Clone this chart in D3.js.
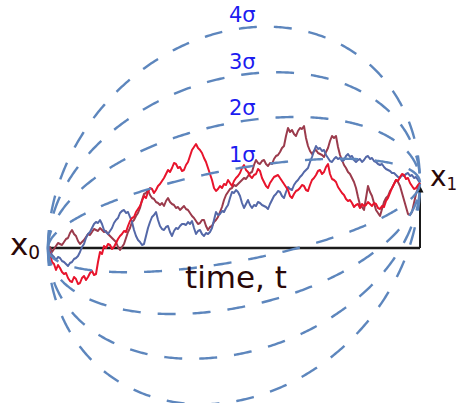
<!DOCTYPE html>
<html>
<head>
<meta charset="utf-8">
<script src="https://cdn.jsdelivr.net/npm/d3@7"></script>
<style>
  body { margin: 0; background: #fff; }
  text { font-family: "DejaVu Sans", Verdana, sans-serif; }
</style>
</head>
<body>
<div id="chart"></div>
<script>
// Brownian bridge sample paths, value above x0, one sample per equal time step
const redPath = [0, -5, -14, -16, -22, -17, -20, -24, -26, -25, -30, -33, -34, -29, -31, -36, -35, -30, -28, -32,
  -29, -25, -23, -27, -26, -14, -4, -6, 2, 0, 4, 3, -1, 1, 5, 9, 12, 14, 17, 16,
  22, 27, 30, 31, 36, 39, 42, 47, 52, 50, 56, 60, 59, 55, 58, 62, 64, 67, 70, 74,
  78, 76, 80, 85, 84, 80, 81, 77, 78, 83, 86, 92, 98, 101, 104, 100, 98, 95, 90, 86,
  80, 74, 68, 60, 57, 59, 62, 60, 64, 63, 68, 65, 62, 67, 70, 72, 75, 80, 83, 78,
  76, 72, 70, 73, 74, 79, 77, 70, 66, 62, 60, 65, 68, 71, 72, 73, 70, 67, 64, 61,
  58, 52, 50, 54, 57, 58, 60, 63, 62, 58, 57, 63, 68, 70, 73, 77, 78, 74, 76, 81,
  84, 74, 69, 68, 66, 61, 58, 55, 53, 49, 47, 48, 45, 41, 43, 44, 40, 44, 42, 43,
  46, 44, 42, 45, 44, 40, 39, 42, 41, 47, 50, 55, 60, 64, 68, 67, 71, 74, 73, 69,
  70, 65, 62, 59, 60, 63, 65];
const maroonPath = [0, 1, -4, -1, 2, 5, 4, 3, 6, 9, 10, 15, 18, 14, 12, 7, 4, 6, 8, 11,
  14, 13, 16, 19, 18, 17, 20, 18, 16, 17, 14, 12, 10, 8, 6, 1, -2, 1, 4, 10,
  16, 20, 26, 28, 32, 35, 40, 48, 54, 55, 58, 53, 50, 49, 46, 45, 43, 45, 42, 47,
  50, 46, 44, 43, 40, 41, 38, 40, 42, 39, 38, 35, 32, 30, 27, 24, 25, 28, 28, 22,
  18, 21, 22, 26, 28, 31, 36, 41, 48, 53, 56, 59, 60, 63, 62, 64, 66, 68, 70, 69,
  72, 75, 76, 83, 88, 85, 84, 87, 88, 84, 82, 85, 84, 89, 92, 93, 96, 100, 102, 112,
  120, 116, 118, 114, 112, 117, 120, 119, 122, 110, 102, 97, 94, 97, 98, 95, 94, 93, 91, 96,
  100, 107, 112, 110, 112, 101, 93, 88, 83, 80, 76, 74, 70, 66, 60, 51, 43, 41, 38, 50,
  62, 56, 52, 45, 38, 35, 32, 39, 46, 50, 52, 57, 60, 64, 68, 66, 62, 55, 48, 41,
  34, 33, 36, 45, 54, 60, 65];
const bluePath = [0, -3, -7, -9, -12, -9, -10, -13, -14, -16, -18, -15, -14, -11, -10, -8, -4, 1, 4, 10,
  14, 16, 20, 24, 26, 25, 28, 24, 18, 16, 14, 17, 20, 25, 28, 30, 35, 37, 38, 35,
  36, 31, 26, 18, 12, 8, 6, 3, 4, 12, 20, 26, 31, 33, 36, 28, 22, 19, 18, 21,
  22, 16, 12, 17, 20, 19, 22, 24, 24, 23, 26, 24, 27, 20, 14, 17, 18, 14, 12, 15,
  14, 16, 20, 28, 36, 33, 34, 37, 36, 40, 43, 50, 56, 55, 58, 56, 52, 45, 40, 44,
  48, 43, 40, 43, 42, 46, 45, 43, 42, 41, 39, 44, 48, 52, 54, 57, 56, 52, 50, 56,
  61, 59, 58, 63, 66, 68, 71, 73, 76, 78, 80, 86, 91, 97, 102, 99, 100, 97, 98, 93,
  90, 87, 86, 89, 91, 89, 90, 87, 88, 92, 94, 91, 92, 88, 86, 88, 89, 86, 88, 91,
  92, 89, 90, 87, 86, 84, 83, 84, 81, 79, 78, 77, 75, 75, 73, 71, 70, 73, 72, 74,
  75, 72, 73, 70, 71, 68, 65];

const x0Value = 0;
const x1Value = 65;
const sigma = 93;
const sigmaLevels = [1, 2, 3, 4];
const sigmaLabels = ["1σ", "2σ", "3σ", "4σ"];

const width = 458;
const height = 403;

const xScale = d3.scaleLinear().domain([0, 1]).range([48, 420]);
const yScale = d3.scaleLinear().domain([0, 100]).range([248, 148]);

const svg = d3
  .select("#chart")
  .append("svg")
  .attr("width", width)
  .attr("height", height);

svg
  .append("defs")
  .append("marker")
  .attr("id", "arrow")
  .attr("viewBox", "0 0 10 10")
  .attr("refX", 5)
  .attr("refY", 5)
  .attr("markerWidth", 3.5)
  .attr("markerHeight", 3.5)
  .attr("orient", "auto")
  .append("path")
  .attr("d", "M0,0 L10,5 L0,10 Z")
  .attr("fill", "#111");

// time axis and the rise to x1
svg
  .append("line")
  .attr("x1", xScale(0))
  .attr("x2", xScale(1))
  .attr("y1", yScale(x0Value))
  .attr("y2", yScale(x0Value))
  .attr("stroke", "#1a1a1a")
  .attr("stroke-width", 2.6);

svg
  .append("line")
  .attr("x1", xScale(1))
  .attr("x2", xScale(1))
  .attr("y1", yScale(x0Value))
  .attr("y2", yScale(x1Value) + 6)
  .attr("stroke", "#1a1a1a")
  .attr("stroke-width", 2)
  .attr("marker-end", "url(#arrow)");

// sample paths
const line = d3
  .line()
  .x((d, i, arr) => xScale(i / (arr.length - 1)))
  .y((d) => yScale(d));

const paths = [
  { values: maroonPath, color: "#9b3b4c" },
  { values: bluePath, color: "#5468a8" },
  { values: redPath, color: "#e8142c" },
];

svg
  .selectAll(".walk")
  .data(paths)
  .enter()
  .append("path")
  .attr("class", "walk")
  .attr("d", (d) => line(d.values))
  .attr("fill", "none")
  .attr("stroke", (d) => d.color)
  .attr("stroke-width", 2)
  .attr("stroke-linejoin", "round");

// sigma envelopes
const ts = d3.range(0, 301).map((s) => (1 - Math.cos((Math.PI * s) / 300)) / 2);
const mean = (t) => x0Value + (x1Value - x0Value) * t;

const envelopes = [];
sigmaLevels.forEach((k) => {
  envelopes.push(ts.map((t) => [t, mean(t) + k * sigma * Math.sqrt(t * (1 - t))]));
  envelopes.push(ts.map((t) => [t, mean(t) - k * sigma * Math.sqrt(t * (1 - t))]));
});

const envLine = d3
  .line()
  .x((d) => xScale(d[0]))
  .y((d) => yScale(d[1]));

svg
  .selectAll(".env")
  .data(envelopes)
  .enter()
  .append("path")
  .attr("class", "env")
  .attr("d", envLine)
  .attr("fill", "none")
  .attr("stroke", "#5d86bd")
  .attr("stroke-width", 2.4)
  .attr("stroke-dasharray", "18,17");

// labels
svg
  .selectAll(".sig")
  .data(sigmaLevels)
  .enter()
  .append("text")
  .attr("class", "sig")
  .attr("x", 229)
  .attr("y", (k) => yScale(mean(0.49) + k * sigma * 0.5) - 8)
  .attr("fill", "#1c1cf0")
  .attr("font-size", 21)
  .text((k, i) => sigmaLabels[i]);

const xLabel = (x, y, sub, size) => {
  const t = svg
    .append("text")
    .attr("x", x)
    .attr("y", y)
    .attr("fill", "#2a0808")
    .attr("font-size", size);
  t.append("tspan").text("x");
  t.append("tspan").attr("font-size", size * 0.6).attr("dy", 4).text(sub);
};
xLabel(10, yScale(x0Value) + 7, "0", 31);
xLabel(430, yScale(x1Value) + 3, "1", 28);

svg
  .append("text")
  .attr("x", 185)
  .attr("y", 288)
  .attr("fill", "#2a0808")
  .attr("font-size", 31)
  .text("time, t");
</script>
</body>
</html>
